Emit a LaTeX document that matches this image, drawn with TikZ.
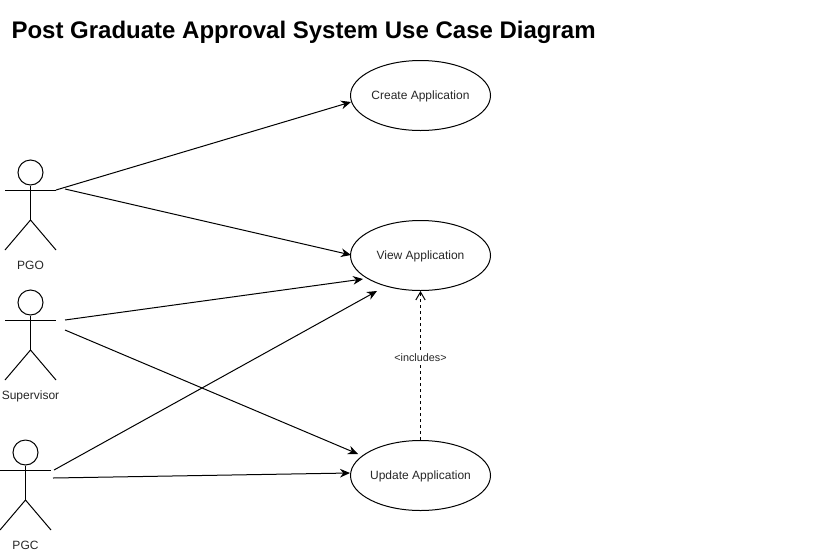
\documentclass[tikz,border=0pt]{standalone}
\usepackage{fontspec}
\setmainfont{Liberation Sans}
\usetikzlibrary{shapes.geometric,arrows.meta}
\tikzset{
  usecase/.style={draw,ellipse,minimum width=105pt,minimum height=52.5pt,inner ysep=0pt,inner xsep=-5pt,text height=8.2pt,text depth=1.5pt,font=\fontsize{9}{11}\selectfont,text=black!85},
  head/.style={draw,circle,minimum size=18.75pt,inner sep=0pt},
  actorlabel/.style={inner sep=0pt,text height=6.5pt,text depth=0pt,font=\fontsize{9}{11}\selectfont,text=black!85},
  assoc/.style={-{Stealth[length=7.5pt,width=6.5pt]}},
  incl/.style={dashed,dash pattern=on 2.25pt off 2.25pt,-{Straight Barb[length=6pt,width=7pt]}}
}
\begin{document}
\begin{tikzpicture}[x=0.75pt,y=-0.75pt,line width=0.75pt]
\useasboundingbox (0,0) rectangle (837,550);
\node [anchor=base west,inner sep=0pt,font=\fontsize{18}{22}\bfseries] (title) at (11,38) {Post Graduate Approval System Use Case Diagram};
% use cases
\node [usecase] (create) at (420.5,95.5) {Create Application};
\node [usecase] (view) at (420.5,255.5) {View Application};
\node [usecase] (update) at (420.5,475.5) {Update Application};
% PGO
\node [head] (pgohead) at (30.5,172.5) {};
\coordinate (pgoleft) at (5,190);
\coordinate (pgoright) at (56,190);
\coordinate (pgohip) at (30.5,220);
\coordinate (pgoa) at (5,250);
\coordinate (pgob) at (56,250);
\draw (pgohead) -- (pgohip);
\draw (pgoleft) -- (pgoright);
\draw (pgoa) -- (pgohip) -- (pgob);
\node [actorlabel] (pgo) at (30.5,265) {PGO};
% Supervisor
\node [head] (suphead) at (30.5,302.5) {};
\coordinate (supleft) at (5,320);
\coordinate (supright) at (56,320);
\coordinate (suphip) at (30.5,350);
\coordinate (supa) at (5,380);
\coordinate (supb) at (56,380);
\draw (suphead) -- (suphip);
\draw (supleft) -- (supright);
\draw (supa) -- (suphip) -- (supb);
\node [actorlabel] (sup) at (30.5,395) {Supervisor};
% PGC
\node [head] (pgchead) at (25.5,452.5) {};
\coordinate (pgcleft) at (0,470);
\coordinate (pgcright) at (51,470);
\coordinate (pgchip) at (25.5,500);
\coordinate (pgca) at (0,530);
\coordinate (pgcb) at (51,530);
\draw (pgchead) -- (pgchip);
\draw (pgcleft) -- (pgcright);
\draw (pgca) -- (pgchip) -- (pgcb);
\node [actorlabel] (pgc) at (25.5,545) {PGC};
% free ends of the connectors
\coordinate (pgoout) at (65,189);
\coordinate (supouta) at (65,320);
\coordinate (supoutb) at (65,330);
\coordinate (pgcouta) at (54,470);
\coordinate (pgcoutb) at (53,478);
\coordinate (createin) at (351,102);
\coordinate (viewina) at (351,255);
\coordinate (viewinb) at (363,279);
\coordinate (viewinc) at (377,291);
\coordinate (updateina) at (358,454);
\coordinate (updateinb) at (350,473);
% connectors
\draw [assoc] (pgoright) -- (createin);
\draw [assoc] (pgoout) -- (viewina);
\draw [assoc] (supouta) -- (viewinb);
\draw [assoc] (supoutb) -- (updateina);
\draw [assoc] (pgcouta) -- (viewinc);
\draw [assoc] (pgcoutb) -- (updateinb);
\draw [incl] (update) -- (view) node [pos=0.553,fill=white,inner sep=1pt,font=\fontsize{8.1}{9}\selectfont,text=black!85] (includes) {<includes>};
\end{tikzpicture}
\end{document}
